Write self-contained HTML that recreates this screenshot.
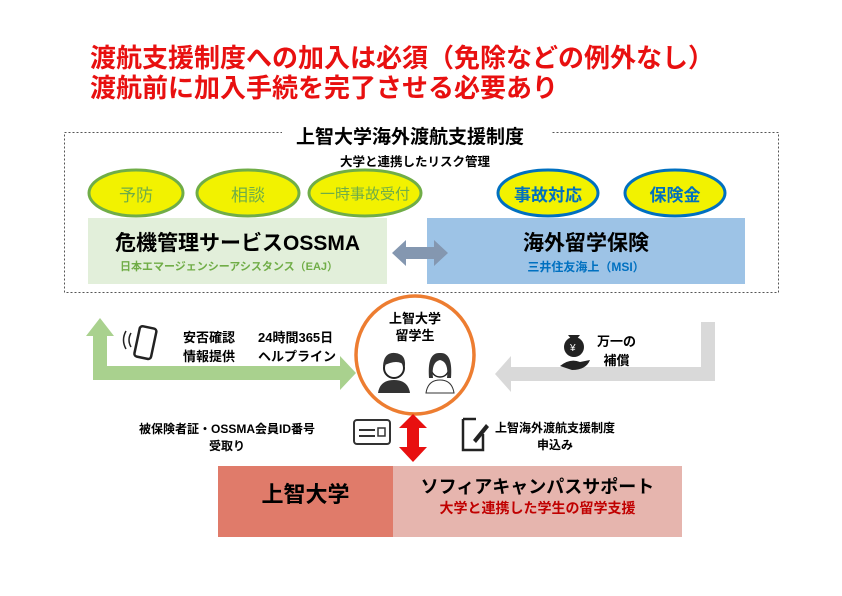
<!DOCTYPE html>
<html><head><meta charset="utf-8"><style>
body{margin:0;width:842px;height:596px;background:#fff;position:relative;overflow:hidden;font-family:"Liberation Sans","Noto Sans CJK JP",sans-serif;}
.a{position:absolute;white-space:nowrap;}
.b{font-weight:bold;}
</style></head><body>
<svg width="842" height="596" style="position:absolute;left:0;top:0">
<rect x="64.5" y="132.5" width="714" height="160" fill="none" stroke="#555" stroke-dasharray="2,2"/>
<rect x="282" y="122" width="270" height="22" fill="#fff"/>
<g stroke-width="3" fill="#f2f200">
<ellipse cx="136" cy="193" rx="47" ry="23" stroke="#70ad47"/>
<ellipse cx="248" cy="193" rx="51" ry="23" stroke="#70ad47"/>
<ellipse cx="365" cy="193" rx="56" ry="23" stroke="#70ad47"/>
<ellipse cx="548" cy="193" rx="50" ry="23" stroke="#0070c0"/>
<ellipse cx="675" cy="193" rx="50" ry="23" stroke="#0070c0"/>
</g>
<rect x="88" y="218" width="299" height="66" fill="#e2efda"/>
<rect x="427" y="218" width="318" height="66" fill="#9dc3e6"/>
<polygon points="392,253 406,240 406,247 434,247 434,240 448,253 434,266 434,259 406,259 406,266" fill="#8497b0"/>
<polygon points="93,380 93,336 86,336 100,318 114,336 107,336 107,366 340,366 340,356 356,373 340,390 340,380" fill="#a9d18e"/>
<polygon points="715,322 715,381 511,381 511,392 495,374 511,356 511,367 701,367 701,322" fill="#d9d9d9"/>
<circle cx="415" cy="355" r="59" fill="#fff" stroke="#ed7d31" stroke-width="3.5"/>
<polygon points="413,414 427,428 419,428 419,447 427,447 413,462 399,447 407,447 407,428 399,428" fill="#e81010"/>
<rect x="218" y="466" width="175" height="71" fill="#e07b6a"/>
<rect x="393" y="466" width="289" height="71" fill="#e6b5ae"/>
<g>
<circle cx="394" cy="368" r="10" fill="#fff" stroke="#222" stroke-width="2"/>
<path d="M383 366 Q384 352 395 353 Q406 354 405 366 Q398 358 383 366Z" fill="#333"/>
<path d="M378 393 Q380 380 394 380 Q408 380 410 393Z" fill="#333"/>
<circle cx="440" cy="368" r="9" fill="#fff" stroke="#222" stroke-width="1.5"/>
<path d="M429 378 Q427 352 440 353 Q453 352 451 378 L447 378 Q449 362 440 360 Q431 362 433 378Z" fill="#333"/>
<path d="M426 393 Q428 380 440 380 Q452 380 454 393Z" fill="#fff" stroke="#333"/>
</g>
<rect x="137" y="327" width="17" height="31" rx="3" fill="none" stroke="#222" stroke-width="2.5" transform="rotate(12 145 342)"/>
<path d="M131 333 Q127 340 131 347 M126 331 Q121 340 126 349" fill="none" stroke="#222" stroke-width="1.5"/>
<circle cx="574" cy="347" r="10" fill="#222"/><path d="M568 335 L580 335 L576 340 L572 340Z" fill="#222"/>
<text x="570" y="351" font-size="10" fill="#fff">¥</text>
<path d="M560 366 Q570 358 580 362 L590 360 Q586 370 572 370Z" fill="#222"/>
<rect x="354" y="420" width="36" height="24" rx="3" fill="none" stroke="#333" stroke-width="2"/>
<line x1="359" y1="430" x2="375" y2="430" stroke="#333" stroke-width="2"/><line x1="359" y1="436" x2="375" y2="436" stroke="#333" stroke-width="2"/>
<rect x="378" y="428" width="7" height="8" fill="none" stroke="#333" stroke-width="1.5"/>
<path d="M463 419 L463 450 L483 450 L483 434 M476 419 L463 419" fill="none" stroke="#222" stroke-width="2.5"/>
<path d="M473 440 L486 424 L489 427 L476 443Z" fill="#222"/>
</svg>
<div class="a b" style="left:90px;top:43px;font-size:26px;color:#e81010;line-height:30px">渡航支援制度への加入は必須（免除などの例外なし）<br>渡航前に加入手続を完了させる必要あり</div>
<div class="a b" style="left:296px;top:122px;font-size:19px">上智大学海外渡航支援制度</div>
<div class="a b" style="left:340px;top:151px;font-size:12.5px">大学と連携したリスク管理</div>
<div class="a" style="left:89px;top:181px;width:94px;text-align:center;font-size:17px;color:#70ad47">予防</div>
<div class="a" style="left:197px;top:181px;width:102px;text-align:center;font-size:17px;color:#70ad47">相談</div>
<div class="a" style="left:309px;top:183px;width:112px;text-align:center;font-size:15px;color:#70ad47">一時事故受付</div>
<div class="a b" style="left:498px;top:181px;width:100px;text-align:center;font-size:17px;color:#0070c0">事故対応</div>
<div class="a b" style="left:625px;top:181px;width:100px;text-align:center;font-size:17px;color:#0070c0">保険金</div>
<div class="a b" style="left:88px;top:227px;width:299px;text-align:center;font-size:21px">危機管理サービスOSSMA</div>
<div class="a b" style="left:88px;top:258px;width:282px;text-align:center;font-size:11px;color:#70ad47">日本エマージェンシーアシスタンス（EAJ）</div>
<div class="a b" style="left:427px;top:227px;width:318px;text-align:center;font-size:21px">海外留学保険</div>
<div class="a b" style="left:427px;top:258px;width:318px;text-align:center;font-size:12px;color:#0070c0">三井住友海上（MSI）</div>
<div class="a b" style="left:183px;top:328px;font-size:13px;line-height:19px">安否確認<br>情報提供</div>
<div class="a b" style="left:258px;top:328px;font-size:13px;line-height:19px">24時間365日<br>ヘルプライン</div>
<div class="a b" style="left:375px;top:310px;width:80px;text-align:center;font-size:13px;line-height:17px">上智大学<br>留学生</div>
<div class="a b" style="left:597px;top:332px;font-size:13px;line-height:19px;text-align:center">万一の<br>補償</div>
<div class="a b" style="left:139px;top:421px;font-size:12px;line-height:17px;text-align:center">被保険者証・OSSMA会員ID番号<br>受取り</div>
<div class="a b" style="left:495px;top:420px;font-size:12px;line-height:17px;text-align:center">上智海外渡航支援制度<br>申込み</div>
<div class="a b" style="left:218px;top:477px;width:175px;text-align:center;font-size:22px">上智大学</div>
<div class="a b" style="left:393px;top:473px;width:289px;text-align:center;font-size:18px">ソフィアキャンパスサポート</div>
<div class="a b" style="left:393px;top:498px;width:289px;text-align:center;font-size:14px;color:#c00000">大学と連携した学生の留学支援</div>
</body></html>
